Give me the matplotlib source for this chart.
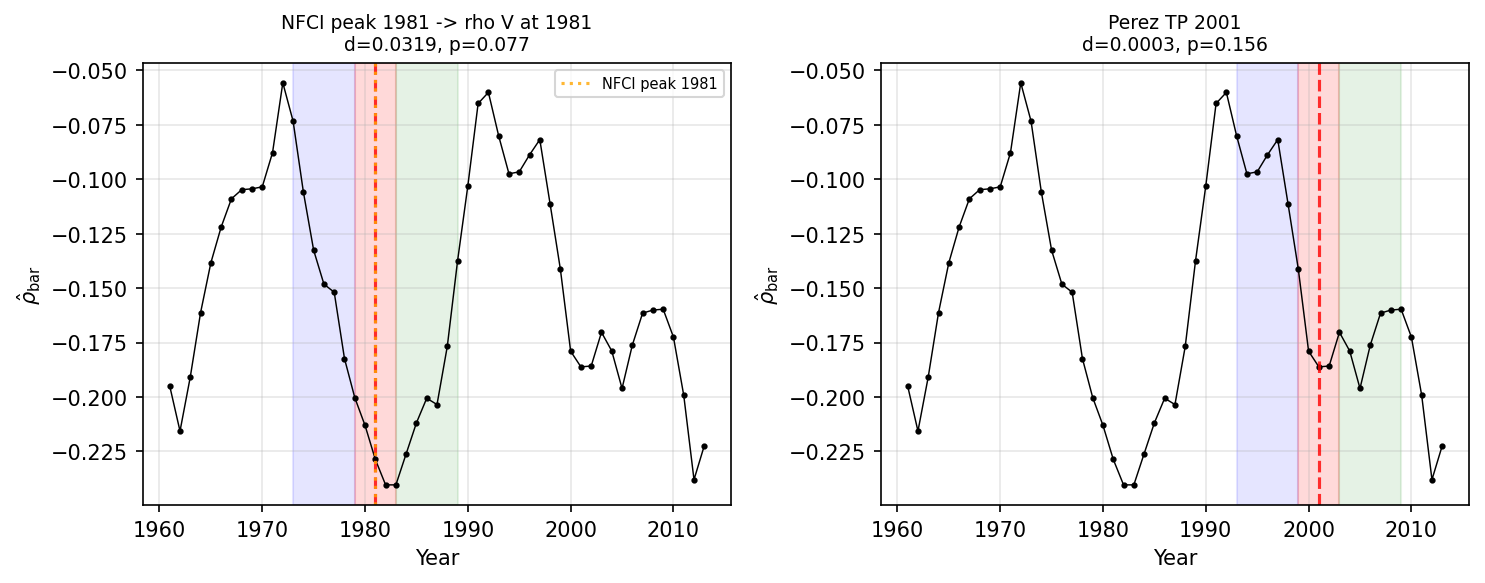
import numpy as np
import matplotlib
matplotlib.use("Agg")
import matplotlib.pyplot as plt

# rho_bar series
years = np.arange(1961, 2014)
rho_bar = [
    -0.1950, -0.2157, -0.1908, -0.1613, -0.1384, -0.1220, -0.1090, -0.1048, -0.1044, -0.1035,
    -0.0878, -0.0557, -0.0733, -0.1058, -0.1326, -0.1482, -0.1519, -0.1824, -0.2003, -0.2131,
    -0.2287, -0.2404, -0.2404, -0.2261, -0.2119, -0.2006, -0.2035, -0.1768, -0.1375, -0.1030,
    -0.0652, -0.0601, -0.0801, -0.0975, -0.0966, -0.0888, -0.0818, -0.1113, -0.1413, -0.1790,
    -0.1862, -0.1858, -0.1703, -0.1789, -0.1961, -0.1762, -0.1615, -0.1601, -0.1597, -0.1725,
    -0.1992, -0.2380, -0.2224,
]

# event years and windows (pre, event, post)
events = [1981, 2001]
titles = ["NFCI peak 1981 -> rho V at 1981\nd=0.0319, p=0.077",
          "Perez TP 2001\nd=0.0003, p=0.156"]
pre_win = [(1973, 1979), (1993, 1999)]
evt_win = [(1979, 1983), (1999, 2003)]
post_win = [(1983, 1989), (2003, 2009)]

fig, axes = plt.subplots(1, 2, figsize=(9.9, 3.893), dpi=150)
fig.subplots_adjust(left=0.0963, right=0.9892, bottom=0.1336, top=0.891, wspace=0.255)

for i, ax in enumerate(axes):
    ax.axvspan(*pre_win[i], color="blue", alpha=0.1)
    ax.axvspan(*evt_win[i], color="red", alpha=0.15)
    ax.axvspan(*post_win[i], color="green", alpha=0.1)
    ax.plot(years, rho_bar, color="black", lw=0.7, marker="o", markersize=2)
    ax.axvline(events[i], color="red", ls="--", lw=1.5, alpha=0.8)
    if i == 0:
        ax.axvline(events[i], color="orange", ls=":", lw=1.5, alpha=0.8,
                   label="NFCI peak 1981")
        ax.legend(loc="upper right", fontsize=7)
    ax.set_title(titles[i], fontsize=9)
    ax.set_xlabel("Year")
    ax.set_ylabel(r"$\hat{\rho}_{\rm bar}$")
    ax.grid(True, alpha=0.3)

fig.savefig("out.png", dpi=150)
